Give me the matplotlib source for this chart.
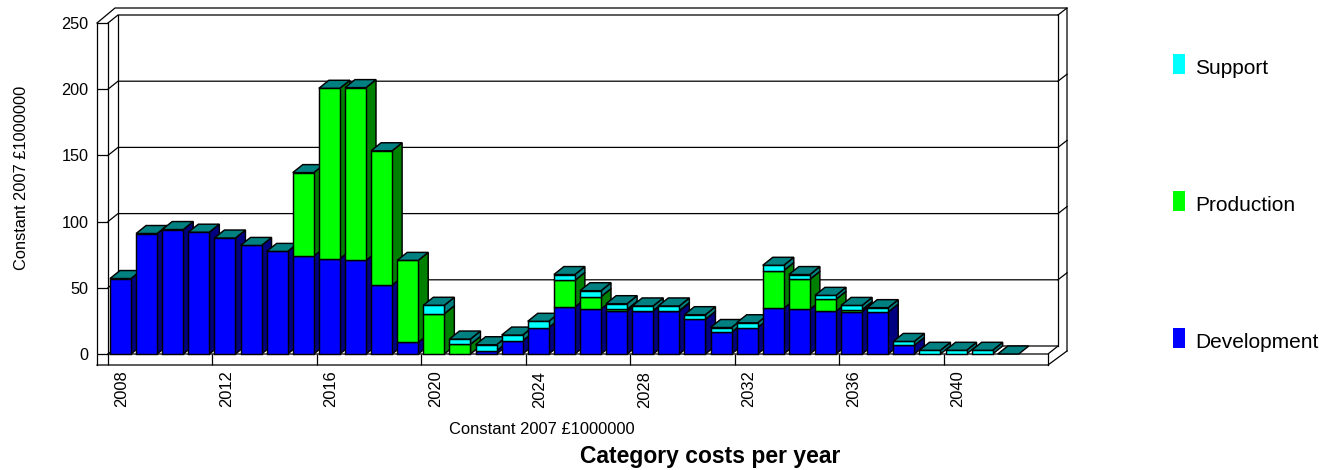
import matplotlib
matplotlib.use("Agg")
import matplotlib.pyplot as plt
from matplotlib.patches import Polygon, Patch, Rectangle
from matplotlib.legend_handler import HandlerPatch
from matplotlib.ticker import FixedLocator, NullFormatter

plt.rcParams['font.family'] = ['Liberation Sans', 'DejaVu Sans']

W, H = 1319, 470
years = list(range(2008, 2044))
development = [57, 91, 94, 92, 87.6, 82, 77.5, 74, 72, 70.7, 52, 8.8, 0, 0, 2.5, 10, 20, 35.5, 34, 32.2,
               32.5, 32.5, 26.2, 16.4, 20, 34.5, 33.7, 32.2, 32, 31.7, 6.5, 0, 0, 0, 0]
production = [0, 0, 0, 0, 0, 0, 0, 63, 128.7, 130.5, 101.5, 61.9, 30.4, 7.3, 0, 0, 0, 20.1, 9.3, 1.5,
              0.3, 0.3, 0, 0, 0, 28.5, 22.7, 9.1, 1.5, 0, 0, 0, 0, 0, 0]
support = [0, 0, 0, 0, 0, 0, 0, 0, 0, 0, 0, 0, 6.4, 4, 4.5, 4.3, 4.7, 4.4, 4.5, 4.3,
           3.5, 3.5, 3.5, 3.6, 3.6, 4, 3.6, 3, 3.2, 3.3, 3, 2.8, 2.8, 2.8, 0]
series = [("Development", development, "#0000ff", "#000080"),
          ("Production", production, "#00ff00", "#008000"),
          ("Support", support, "#00ffff", "#008080")]
top_colour = "#008080"
y_ticks = [0, 50, 100, 150, 200, 250]
label_years = list(range(2008, 2044, 4))
axis_label = "Constant 2007 £1000000"
title = "Category costs per year"

# layout, in pixels of the figure
L, R, T, B = 108, 1048, 23, 354
px_x = (R - L) / len(years)      # pixels per category
px_y = (B - T) / 250             # pixels per unit
DX, DY = 10 / px_x, 8 / px_y     # bar depth in data units
WX, WY = 10 / px_x, 8 / px_y     # wall depth in data units
FX, FY = 11 / px_x, 11 / px_y    # front ledge in data units
SX, SY = 9 / px_x, 7 / px_y      # outer shell offset
BW, GAP = 21 / px_x, 2 / px_x
LW = 0.9
BAR_LW = 1.05

fig = plt.figure(figsize=(W / 100, H / 100), dpi=100)
ax = fig.add_axes([L / W, 1 - B / H, (R - L) / W, (B - T) / H])
ax.set_xlim(-0.5, len(years) - 0.5)
ax.set_ylim(0, 250)
for s in ax.spines.values():
    s.set_visible(False)
ax.patch.set_visible(False)

x0, x1 = -0.5, len(years) - 0.5
frame = dict(color="black", lw=LW, clip_on=False, zorder=1, solid_capstyle="projecting")
# back wall grid and side wall
for v in y_ticks:
    ax.plot([x0, x0 + WX, x1 + WX], [v, v + WY, v + WY], **frame)
    if v > 0:
        ax.plot([x1 + WX, x1 + WX + SX], [v + WY, v + WY + SY], **frame)
ax.plot([x0 + WX] * 2, [WY, 250 + WY], **frame)
ax.plot([x1 + WX] * 2, [WY, 250 + WY], **frame)
ax.plot([x0, x0], [0, 250], **frame)
# outer shell
ox, oy = x1 + WX + SX, 250 + WY + SY
shell_low = WY - 5 / px_y
ax.plot([x0 - FX, x0 - FX + 18 / px_x, ox, ox], [250, oy, oy, shell_low], **frame)
ax.plot([x0 - FX, x0 - FX], [-FY, 250], **frame)
ax.plot([x0 - FX, x1, ox], [-FY, -FY, shell_low], **frame)
ax.plot([x1, x1], [-FY, 0], **frame)
ax.plot([x0, x1, x1 + WX], [0, 0, WY], **frame)

# stacked bars, drawn back to front so the nearer one covers the side of the previous
for i, yr in enumerate(years[:35]):
    left = i - 0.5 + GAP
    right = left + BW
    base = 0
    for name, vals, face, side in series:
        v = vals[i]
        if v > 0:
            top = base + v
            ax.add_patch(Polygon([(right, base), (right + DX, base + DY), (right + DX, top + DY), (right, top)],
                                 fc=side, ec="black", lw=BAR_LW, zorder=3, clip_on=False))
            ax.add_patch(Polygon([(left, base), (right, base), (right, top), (left, top)],
                                 fc=face, ec="black", lw=BAR_LW, zorder=3, clip_on=False))
            base = top
    ax.add_patch(Polygon([(left, base), (right, base), (right + DX, base + DY), (left + DX, base + DY)],
                         fc=top_colour, ec="black", lw=BAR_LW, zorder=3, clip_on=False))

# axes
ax.set_yticks(y_ticks)
ax.tick_params(axis="y", length=11 * 0.72, width=LW, pad=6, labelsize=11.7, color="black")
ax.set_xticks([years.index(y) + 1 / px_x for y in label_years])
ax.set_xticklabels([str(y) for y in label_years], rotation=90, fontsize=11.9)
ax.tick_params(axis="x", which="major", length=0, pad=12)
ax.xaxis.set_minor_locator(FixedLocator([years.index(y) - 0.5 for y in label_years]))
ax.xaxis.set_minor_formatter(NullFormatter())
ax.tick_params(axis="x", which="minor", length=11 * 0.72, width=LW, color="black")

fig.text(22 / W, 1 - 178 / H, axis_label, rotation=90, ha="center", va="center", fontsize=11.8)
fig.text(541.5 / W, 1 - 429 / H, axis_label, ha="center", va="center", fontsize=11.9)
fig.text(710.5 / W, 1 - 457 / H, title, ha="center", va="center", fontsize=16.5, fontweight="bold")


def swatch(legend, orig_handle, xdescent, ydescent, width, height, fontsize):
    # bottom of the swatch sits on the text baseline, 20 px tall
    return Rectangle((-xdescent, 0), width, 20 * 0.72)


handles = [Patch(fc=c, ec="none", label=n) for n, _, c, _ in reversed(series)]
fs = 15
px = fs / 0.72
fig.legend(handles=handles, loc="upper left", bbox_to_anchor=(1172.5 / W, 1 - 58.5 / H), frameon=False,
           fontsize=fs, handlelength=12 / px, handletextpad=11 / px,
           handler_map={Patch: HandlerPatch(patch_func=swatch)},
           labelspacing=5.67, borderpad=0, borderaxespad=0)

fig.savefig("out.png", dpi=100)
